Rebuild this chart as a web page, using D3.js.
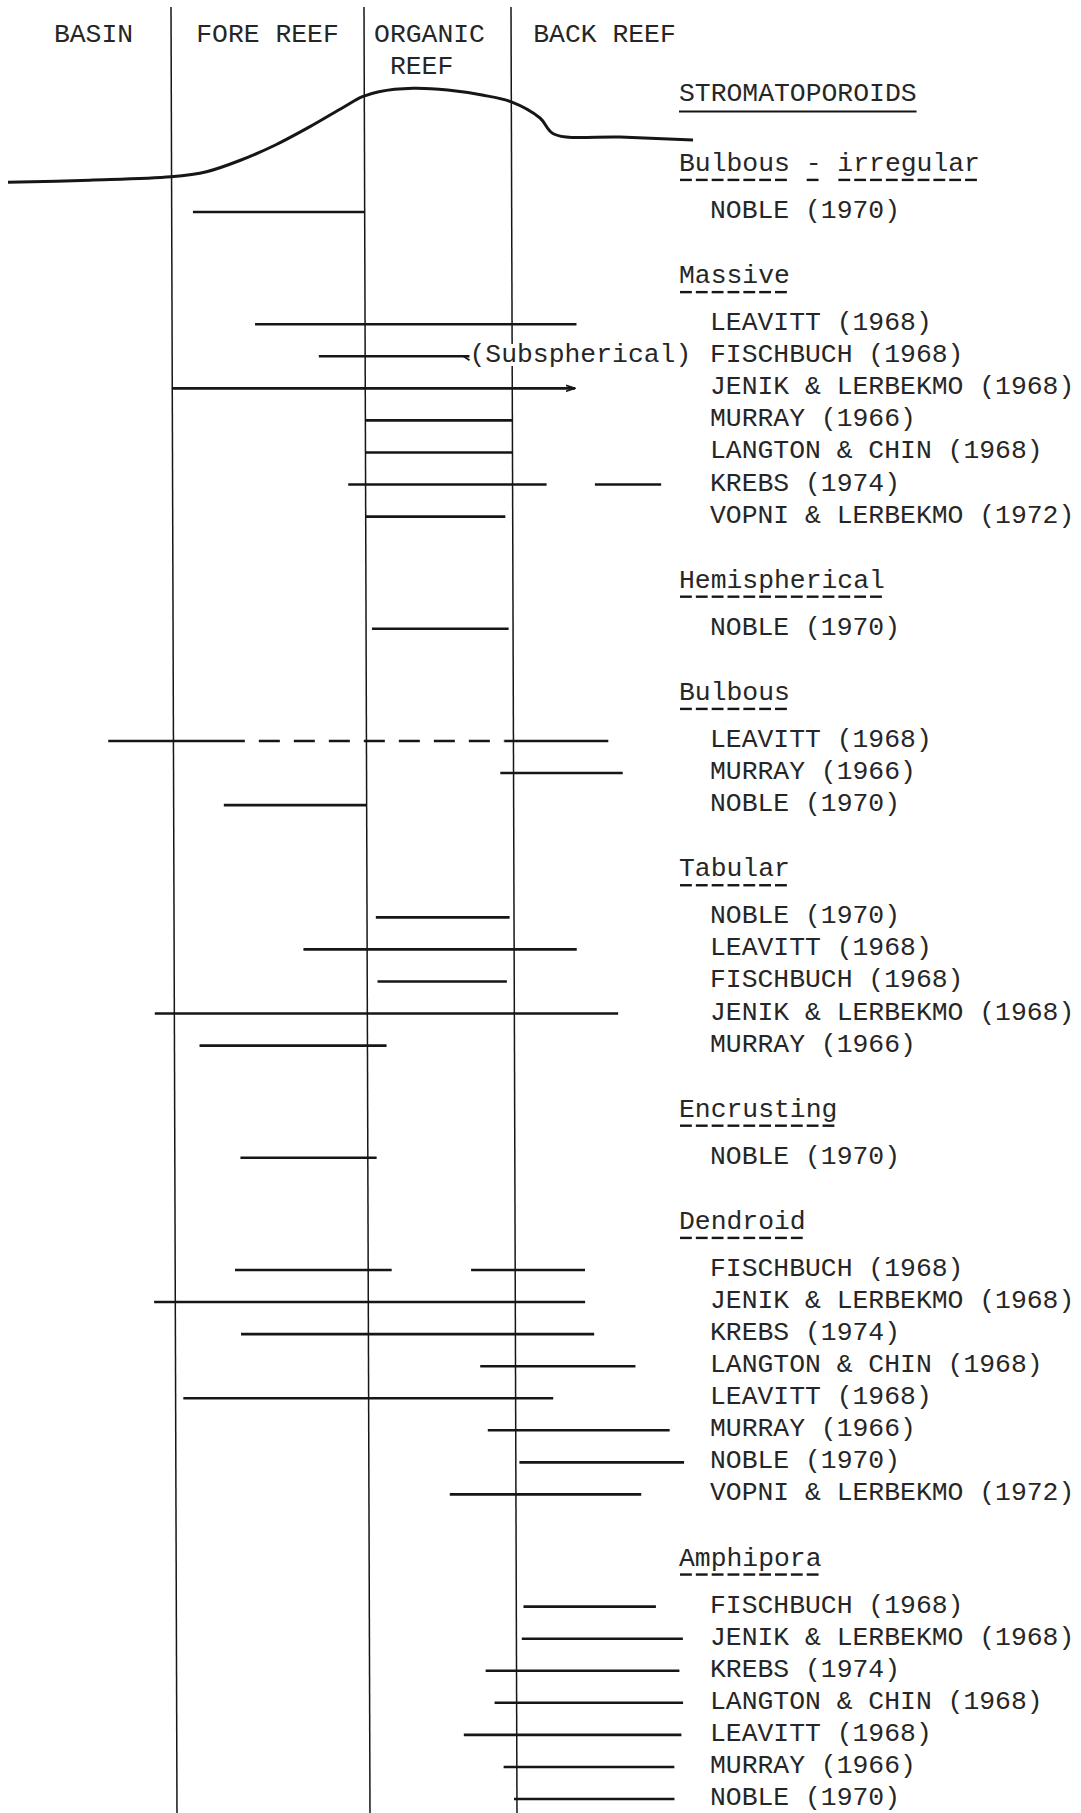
<!DOCTYPE html>
<html><head><meta charset="utf-8">
<script src="https://cdn.jsdelivr.net/npm/d3@7"></script>
<style>
html,body{margin:0;padding:0;background:#fff;}
svg{display:block;background:#fff;}
text{font-family:"Liberation Mono","Courier New",monospace;fill:#262626;}
</style></head><body>
<svg id="chart" width="1081" height="1813"></svg>
<script>
// ---------------- DATA ----------------
// Environment zones along the reef profile (x unit = zone index)
const zoneNames = ["BASIN", "FORE REEF", "ORGANIC REEF", "BACK REEF"];
const zoneBoundaries = [1, 2, 3];
// Reef profile (position in zone units, relative elevation 0..1)
const profileX    = [0, 0.5, 1.0, 1.184, 1.363, 1.541, 1.72, 1.898, 1.992, 2.101, 2.333, 2.569, 2.803, 2.998, 3.162, 3.239, 3.609, 4.017];
const profileElev = [0.007, 0.03, 0.066, 0.119, 0.242, 0.40, 0.593, 0.803, 0.908, 0.961, 0.997, 0.979, 0.926, 0.856, 0.684, 0.516, 0.484, 0.453];

const chartTitle = "STROMATOPOROIDS";
const groupNames = ["Bulbous - irregular", "Massive", "Hemispherical", "Bulbous", "Tabular", "Encrusting", "Dendroid", "Amphipora"];

const bulbousIrregularAuthors = ["NOBLE (1970)"];
const bulbousIrregularRanges  = [[[1.11, 2.0]]];

const massiveAuthors = ["LEAVITT (1968)", "FISCHBUCH (1968)", "JENIK & LERBEKMO (1968)", "MURRAY (1966)", "LANGTON & CHIN (1968)", "KREBS (1974)", "VOPNI & LERBEKMO (1972)"];
const massiveRanges  = [[[1.43, 3.36]], [[1.76, 2.71]], [[1.0, 3.35]], [[2.0, 3.0]], [[2.0, 3.0]], [[1.91, 3.19], [3.46, 3.83]], [[2.0, 2.95]]];

const hemisphericalAuthors = ["NOBLE (1970)"];
const hemisphericalRanges  = [[[2.04, 2.97]]];

const bulbousAuthors = ["LEAVITT (1968)", "MURRAY (1966)", "NOBLE (1970)"];
const bulbousRanges  = [[[0.6, 1.37], [1.37, 2.94], [2.94, 3.53]], [[2.91, 3.61]], [[1.26, 2.0]]];

const tabularAuthors = ["NOBLE (1970)", "LEAVITT (1968)", "FISCHBUCH (1968)", "JENIK & LERBEKMO (1968)", "MURRAY (1966)"];
const tabularRanges  = [[[2.06, 2.97]], [[1.67, 3.35]], [[2.07, 2.95]], [[0.88, 3.58]], [[1.13, 2.13]]];

const encrustingAuthors = ["NOBLE (1970)"];
const encrustingRanges  = [[[1.34, 2.06]]];

const dendroidAuthors = ["FISCHBUCH (1968)", "JENIK & LERBEKMO (1968)", "KREBS (1974)", "LANGTON & CHIN (1968)", "LEAVITT (1968)", "MURRAY (1966)", "NOBLE (1970)", "VOPNI & LERBEKMO (1972)"];
const dendroidRanges  = [[[1.31, 2.16], [2.70, 3.39]], [[0.87, 3.39]], [[1.34, 3.44]], [[2.76, 3.67]], [[1.04, 3.21]], [[2.81, 3.86]], [[3.02, 3.94]], [[2.55, 3.70]]];

const amphiporaAuthors = ["FISCHBUCH (1968)", "JENIK & LERBEKMO (1968)", "KREBS (1974)", "LANGTON & CHIN (1968)", "LEAVITT (1968)", "MURRAY (1966)", "NOBLE (1970)"];
const amphiporaRanges  = [[[3.04, 3.78]], [[3.03, 3.93]], [[2.79, 3.91]], [[2.85, 3.93]], [[2.64, 3.92]], [[2.91, 3.88]], [[2.98, 3.88]]];

// Special segment annotations: [group, authorIndex, segmentIndex]
const uncertainSegments = [["Bulbous", 0, 1]];
const openEndedSegments = [["Massive", 2, 0]];
const segmentNotes = [["Massive", 1, 0, "(Subspherical)"]];

// ---------------- LAYOUT ----------------
const W = 1081, H = 1813;
const FS = 26.4;
const svg = d3.select("#chart");

const x = d3.scaleLinear().domain([0, 1, 2, 3, 4]).range([8, 171, 364, 511, 690]);
// typewriter half-line grid
const y = d3.scaleLinear().domain([0, 99]).range([212, 1799]);
const elev = d3.scaleLinear().domain([0, 1]).range([183, 88]);
const lean = py => (py - 8) * 0.00332;   // hand-drawn verticals lean slightly

const groupAuthors = [bulbousIrregularAuthors, massiveAuthors, hemisphericalAuthors, bulbousAuthors, tabularAuthors, encrustingAuthors, dendroidAuthors, amphiporaAuthors];
const groupRanges  = [bulbousIrregularRanges, massiveRanges, hemisphericalRanges, bulbousRanges, tabularRanges, encrustingRanges, dendroidRanges, amphiporaRanges];

// build row positions
let k = -3;
const headings = [], rows = [];
groupNames.forEach((g, gi) => {
  if (gi > 0) k = k + 4;
  headings.push({name: g, k});
  k = k + 3;
  groupAuthors[gi].forEach((a, ai) => {
    if (ai > 0) k += 2;
    rows.push({group: g, ai, author: a, k, segs: groupRanges[gi][ai]});
  });
});

const ink = "#161616";

// zone boundary lines
svg.append("g").selectAll("line").data(zoneBoundaries).join("line")
  .attr("x1", d => x(d) + lean(8)).attr("y1", 7)
  .attr("x2", d => x(d) + lean(H)).attr("y2", H)
  .attr("stroke", ink).attr("stroke-width", 1.5);

// zone labels
const labelDx = [4, 0, -8, 4];
const lbl = svg.append("g").attr("font-size", FS);
zoneNames.forEach((z, i) => {
  const cx = x(i + 0.5) + labelDx[i];
  const parts = z === "ORGANIC REEF" ? ["ORGANIC", "REEF"] : [z];
  const t0 = lbl.append("text").attr("x", cx).attr("y", 42).attr("text-anchor", "middle").text(parts[0]);
  if (parts.length > 1) {
    const w0 = t0.node().getComputedTextLength();
    const adv = w0 / parts[0].length;
    lbl.append("text").attr("x", cx - w0 / 2 + adv).attr("y", 74).text(parts[1]);
  }
});

// reef profile
const prof = d3.zip(profileX, profileElev);
svg.append("path").datum(prof)
  .attr("d", d3.line().x(d => x(d[0])).y(d => elev(d[1])).curve(d3.curveCatmullRom.alpha(0.5)))
  .attr("fill", "none").attr("stroke", ink).attr("stroke-width", 3).attr("stroke-linejoin", "round");

// arrow marker
svg.append("defs").append("marker").attr("id", "arr")
  .attr("markerUnits", "userSpaceOnUse").attr("markerWidth", 10).attr("markerHeight", 8)
  .attr("refX", 9).attr("refY", 4).attr("orient", "auto")
  .append("path").attr("d", "M0,1 L9,4 L0,7").attr("fill", "none").attr("stroke", ink).attr("stroke-width", 1.6);

const isIn = (list, r, si) => list.some(u => u[0] === r.group && u[1] === r.ai && u[2] === si);

// range lines
const gl = svg.append("g");
rows.forEach(r => {
  const py = y(r.k);
  r.segs.forEach((s, si) => {
    const ln = gl.append("line")
      .attr("x1", x(s[0]) + lean(py)).attr("x2", x(s[1]) + lean(py))
      .attr("y1", py).attr("y2", py)
      .attr("stroke", ink).attr("stroke-width", 2.6);
    if (isIn(uncertainSegments, r, si)) ln.attr("stroke-dasharray", "21 14").attr("stroke-dashoffset", 21);
    if (isIn(openEndedSegments, r, si)) ln.attr("marker-end", "url(#arr)");
    segmentNotes.filter(n => n[0] === r.group && n[1] === r.ai && n[2] === si).forEach(n => {
      const ex = x(s[1]) + lean(py);
      gl.append("path").attr("d", `M${ex - 6},${py} L${ex},${py + 4}`).attr("stroke", ink).attr("stroke-width", 1.8).attr("fill", "none");
      gl.append("text").attr("x", ex).attr("y", py + 6).attr("font-size", FS)
        .attr("stroke", "#fff").attr("stroke-width", 8).attr("paint-order", "stroke")
        .text(n[3]);
    });
  });
});

// right side texts
const tx = svg.append("g").attr("font-size", FS);
const titleY = y(-7.4);
const tt = tx.append("text").attr("x", 679).attr("y", titleY + 8).text(chartTitle);
const tw = tt.node().getComputedTextLength();
tx.append("line").attr("x1", 679).attr("x2", 679 + tw).attr("y1", titleY + 18).attr("y2", titleY + 18)
  .attr("stroke", ink).attr("stroke-width", 2);

headings.forEach(h => {
  const hy = y(h.k);
  const t = tx.append("text").attr("x", 679).attr("y", hy + 7).text(h.name);
  const adv = t.node().getComputedTextLength() / h.name.length;
  const chars = h.name.split("").map((c, i) => ({c, i})).filter(d => d.c !== " ");
  tx.append("g").selectAll("line").data(chars).join("line")
    .attr("x1", d => 679 + d.i * adv + 1).attr("x2", d => 679 + (d.i + 1) * adv - 3)
    .attr("y1", hy + 16).attr("y2", hy + 16)
    .attr("stroke", ink).attr("stroke-width", 2.4);
});

tx.selectAll("text.author").data(rows).join("text").attr("class", "author")
  .attr("x", 710).attr("y", d => y(d.k) + 6).text(d => d.author);
</script>
</body></html>
